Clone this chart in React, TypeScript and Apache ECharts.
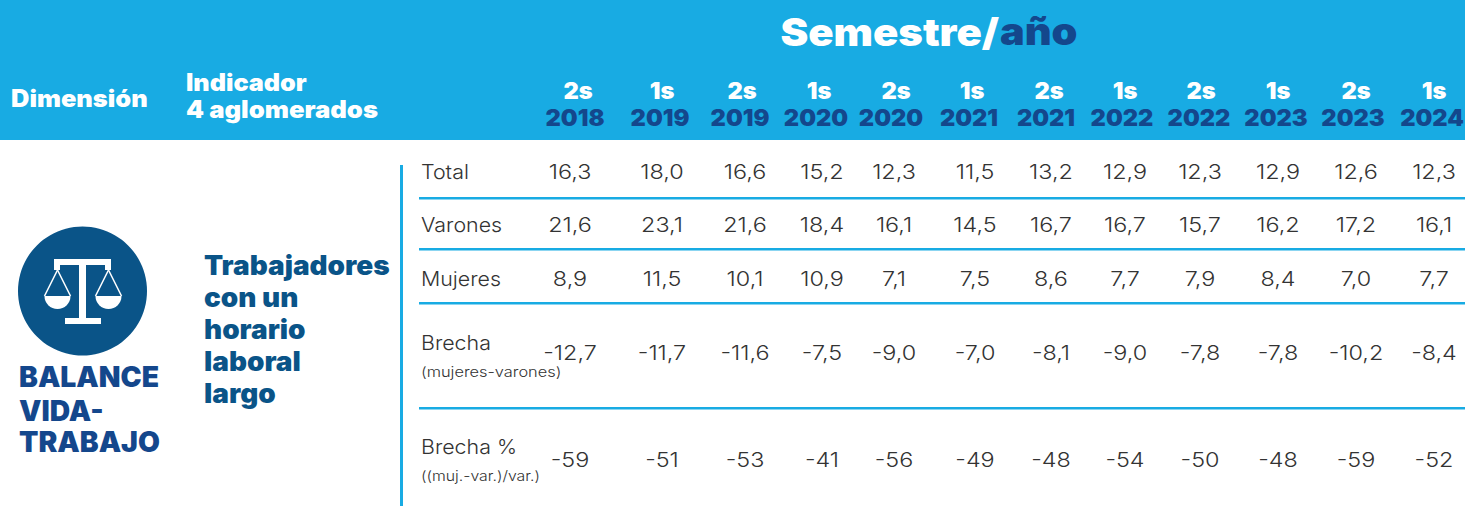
import React, { useEffect, useRef } from "react";
import * as echarts from "echarts";

const semesters = ["2s","1s","2s","1s","2s","1s","2s","1s","2s","1s","2s","1s"];
const years = ["2018","2019","2019","2020","2020","2021","2021","2022","2022","2023","2023","2024"];
const total = [16.3,18.0,16.6,15.2,12.3,11.5,13.2,12.9,12.3,12.9,12.6,12.3];
const varones = [21.6,23.1,21.6,18.4,16.1,14.5,16.7,16.7,15.7,16.2,17.2,16.1];
const mujeres = [8.9,11.5,10.1,10.9,7.1,7.5,8.6,7.7,7.9,8.4,7.0,7.7];
const brecha = [-12.7,-11.7,-11.6,-7.5,-9.0,-7.0,-8.1,-9.0,-7.8,-7.8,-10.2,-8.4];
const brechaPct = [-59,-51,-53,-41,-56,-49,-48,-54,-50,-48,-59,-52];
const rowNames = ["Total","Varones","Mujeres","Brecha","Brecha %"];
const rowNotes = ["","","","(mujeres-varones)","((muj.-var.)/var.)"];

// layout (pixel grid of the page)
const COL_X = [570,662,745,822,894,975,1051,1125,1200,1278,1356,1434];
const SEM_X = [578,662,742,819,896,972,1049,1125,1201,1278,1356,1434];
const YEAR_X = [575,660,740,816,891,969,1046,1122,1199,1276,1353,1432];
const ROW_Y = [172,225,279,353,460];
const RULES_Y = [198,249,303,408];

const BLUE = "#18ABE3", NAVY = "#14478C", DEEP = "#0A5488", INK = "#333333";
const HEAD = "Inter", BODY = "Inter";

const fmt = (v: number, d: number) => v.toFixed(d).replace(".", ",");
const rows = [total, varones, mujeres, brecha].map((r) => r.map((v) => fmt(v, 1))).concat([brechaPct.map((v) => fmt(v, 0))]);

const cells: { value: number[]; text: string }[] = [];
rows.forEach((r, i) => r.forEach((t, j) => cells.push({ value: [COL_X[j], ROW_Y[i]], text: t })));
const headCells: { value: number[]; text: string; color: string }[] = [];
semesters.forEach((t, j) => headCells.push({ value: [SEM_X[j], 91], text: t, color: "#ffffff" }));
years.forEach((t, j) => headCells.push({ value: [YEAR_X[j], 118], text: t, color: NAVY }));

const headText = (x: number, y: number, text: string, size: number, fill = "#ffffff", align = "left", scaleX = 1) => ({
  type: "text", x, y, z: 5, scaleX,
  style: { text, fill, font: `900 ${size}px ${HEAD}`, textAlign: align, textVerticalAlign: "middle" },
});
const bodyText = (x: number, y: number, text: string, size: number, scaleX = 1.07) => ({
  type: "text", x, y, z: 5, scaleX,
  style: { text, fill: INK, font: `300 ${size}px ${BODY}`, textAlign: "left", textVerticalAlign: "middle" },
});
const iconRect = (x: number, y: number, width: number, height: number) => ({
  type: "rect", z: 4, shape: { x, y, width, height }, style: { fill: "#ffffff" },
});
const iconLine = (x1: number, y1: number, x2: number, y2: number) => ({
  type: "line", z: 4, shape: { x1, y1, x2, y2 }, style: { stroke: "#ffffff", lineWidth: 1.5 },
});
const pan = (cx: number) => [
  iconLine(cx, 270, cx - 13, 296),
  iconLine(cx, 270, cx + 13, 296),
  { type: "sector", z: 4, shape: { cx, cy: 296, r: 13, r0: 0, startAngle: 0, endAngle: Math.PI, clockwise: true }, style: { fill: "#ffffff" } },
];

export default function App() {
  const ref = useRef<HTMLDivElement>(null);
  useEffect(() => {
    const chart = echarts.init(ref.current!, undefined, { renderer: "svg" });
    const textSeries = (data: any[], font: string, scaleX: number) => ({
      type: "custom",
      coordinateSystem: "cartesian2d",
      silent: true,
      z: 6,
      data,
      renderItem: (params: any, api: any) => {
        const p = api.coord([api.value(0), api.value(1)]);
        const d = data[params.dataIndex];
        return {
          type: "text", x: p[0], y: p[1], scaleX,
          style: { text: d.text, fill: d.color || INK, font, textAlign: "center", textVerticalAlign: "middle" },
        };
      },
    });
    chart.setOption({
      animation: false,
      backgroundColor: "#ffffff",
      grid: { left: 0, right: 0, top: 0, bottom: 0 },
      xAxis: { type: "value", min: 0, max: 1465, show: false },
      yAxis: { type: "value", min: 0, max: 506, inverse: true, show: false },
      series: [textSeries(cells, `300 20px ${BODY}`, 1.17), textSeries(headCells, `900 23px ${HEAD}`, 1.03)],
      graphic: [
        { type: "rect", z: 1, shape: { x: 0, y: 0, width: 1465, height: 140 }, style: { fill: BLUE } },
        headText(999, 32, "Semestre/", 38, "#ffffff", "right", 1.1),
        headText(1000, 32, "año", 38, NAVY, "left", 1.09),
        headText(11, 98, "Dimensión", 24, "#ffffff", "left", 1.06),
        headText(186, 82, "Indicador", 24, "#ffffff", "left", 1.05),
        headText(186, 109, "4 aglomerados", 24, "#ffffff", "left", 1.07),
        { type: "rect", z: 2, shape: { x: 400, y: 165, width: 3, height: 341 }, style: { fill: BLUE } },
        ...RULES_Y.map((y) => ({ type: "rect", z: 2, shape: { x: 419, y: y - 1, width: 1046, height: 2.5 }, style: { fill: BLUE } })),
        { type: "circle", z: 3, shape: { cx: 82.5, cy: 291, r: 64.5 }, style: { fill: DEEP } },
        iconRect(54, 259, 57, 6),
        iconRect(54, 265, 6, 5),
        iconRect(105, 265, 6, 5),
        iconRect(79, 265, 7, 55),
        iconRect(65, 318, 36, 6),
        ...pan(57.5),
        ...pan(108.5),
        ...["BALANCE", "VIDA-", "TRABAJO"].map((t, i) => headText(19, [377, 411, 442][i], t, 28, NAVY, "left", 1.01)),
        ...["Trabajadores", "con un", "horario", "laboral", "largo"].map((t, i) => headText(204, 265 + i * 32, t, 27, DEEP, "left", 1.035)),
        ...rowNames.map((t, i) => bodyText(421, [172, 225, 279, 343, 447][i], t, 20)),
        bodyText(421, 372, rowNotes[3], 14, 1.17),
        bodyText(421, 476, rowNotes[4], 14, 1.13),
      ],
    });
    return () => chart.dispose();
  }, []);
  return <div ref={ref} style={{ position: "fixed", left: 0, top: 0, width: 1465, height: 506 }} />;
}
